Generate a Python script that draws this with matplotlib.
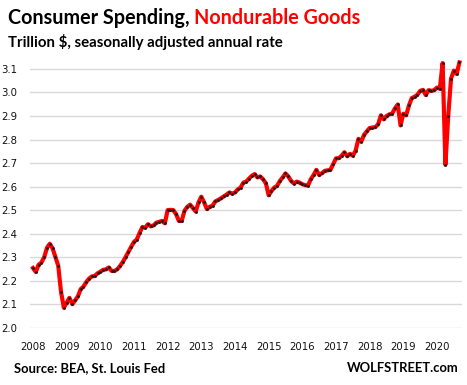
import matplotlib
matplotlib.use("Agg")
import matplotlib.pyplot as plt
import numpy as np

# Monthly values, trillion $, Jan 2008 .. Sep 2020
v2008 = [2.254, 2.237, 2.268, 2.277, 2.300, 2.340, 2.357, 2.337, 2.300, 2.264, 2.152, 2.085]
v2009 = [2.106, 2.127, 2.100, 2.116, 2.133, 2.164, 2.175, 2.194, 2.209, 2.218, 2.220, 2.231]
v2010 = [2.238, 2.246, 2.248, 2.256, 2.242, 2.241, 2.248, 2.262, 2.279, 2.300, 2.322, 2.344]
v2011 = [2.365, 2.375, 2.403, 2.428, 2.425, 2.440, 2.431, 2.435, 2.447, 2.450, 2.454, 2.444]
v2012 = [2.500, 2.501, 2.500, 2.483, 2.454, 2.454, 2.497, 2.514, 2.523, 2.509, 2.494, 2.533]
v2013 = [2.557, 2.533, 2.504, 2.514, 2.519, 2.537, 2.543, 2.550, 2.558, 2.566, 2.575, 2.570]
v2014 = [2.575, 2.588, 2.596, 2.617, 2.621, 2.634, 2.646, 2.653, 2.639, 2.643, 2.631, 2.614]
v2015 = [2.563, 2.581, 2.596, 2.603, 2.624, 2.639, 2.656, 2.643, 2.624, 2.613, 2.621, 2.617]
v2016 = [2.610, 2.606, 2.604, 2.631, 2.649, 2.671, 2.649, 2.657, 2.667, 2.669, 2.671, 2.696]
v2017 = [2.720, 2.721, 2.731, 2.746, 2.729, 2.739, 2.731, 2.753, 2.803, 2.791, 2.820, 2.835]
v2018 = [2.849, 2.851, 2.853, 2.864, 2.903, 2.886, 2.900, 2.907, 2.910, 2.932, 2.949, 2.860]
v2019 = [2.910, 2.903, 2.945, 2.976, 2.982, 2.990, 3.007, 3.011, 2.989, 3.010, 3.007, 3.010]
v2020 = [3.021, 3.016, 3.125, 2.693, 2.900, 3.059, 3.093, 3.079, 3.128]

values = (v2008 + v2009 + v2010 + v2011 + v2012 + v2013 + v2014
          + v2015 + v2016 + v2017 + v2018 + v2019 + v2020)
years = list(range(2008, 2021))
yticks = [2.0, 2.1, 2.2, 2.3, 2.4, 2.5, 2.6, 2.7, 2.8, 2.9, 3.0, 3.1]

# fractional-year x position for each month
x = 2008 + np.arange(len(values)) / 12.0

fig = plt.figure(figsize=(4.67, 3.85), dpi=100)
ax = fig.add_axes([0.0642, 0.1488, 0.925, 0.7026])

ax.plot(x, values, color='#ff0000', lw=3.0, solid_joinstyle='round', zorder=3)
ax.plot(x, values, ls='none', marker='o', ms=2.0, mew=0, color='#1a1a1a', zorder=4)

ax.set_xlim(2007.911, 2020.741)
ax.set_ylim(2.0, 3.15)
ax.set_yticks(yticks)
ax.set_yticklabels([f"{t:.1f}" for t in yticks])
ax.set_xticks(years)
ax.set_xticklabels([str(y) for y in years])
ax.grid(axis='y', color='#d9d9d9', lw=1.0)
ax.set_axisbelow(True)
for s in ax.spines.values():
    s.set_visible(False)
ax.tick_params(axis='both', length=0, labelsize=7.3, colors='#111111')
ax.tick_params(axis='y', pad=9)
ax.tick_params(axis='x', pad=10)

# Title in two colours
t1 = fig.text(8 / 467, 1 - 18 / 385, "Consumer Spending, ", fontsize=14.2,
              fontweight='bold', family='Lato', va='center', ha='left')
fig.canvas.draw()
bb = t1.get_window_extent(renderer=fig.canvas.get_renderer())
fig.text(bb.x1 / fig.bbox.width, 1 - 18 / 385, "Nondurable Goods", fontsize=14.2,
         fontweight='bold', family='Lato', va='center', ha='left', color='#ff0000')
fig.text(8 / 467, 1 - 42 / 385, "Trillion $, seasonally adjusted annual rate",
         fontsize=10.8, fontweight='bold', family='Lato', va='center', ha='left')

fig.text(14 / 467, 1 - 368 / 385, "Source: BEA, St. Louis Fed", fontsize=9.4,
         fontweight='bold', family='Lato', va='center', ha='left')
fig.text(459 / 467, 1 - 368 / 385, "WOLFSTREET.com", fontsize=9.4,
         fontweight='bold', family='Lato', va='center', ha='right')

fig.savefig("out.png", dpi=100)
